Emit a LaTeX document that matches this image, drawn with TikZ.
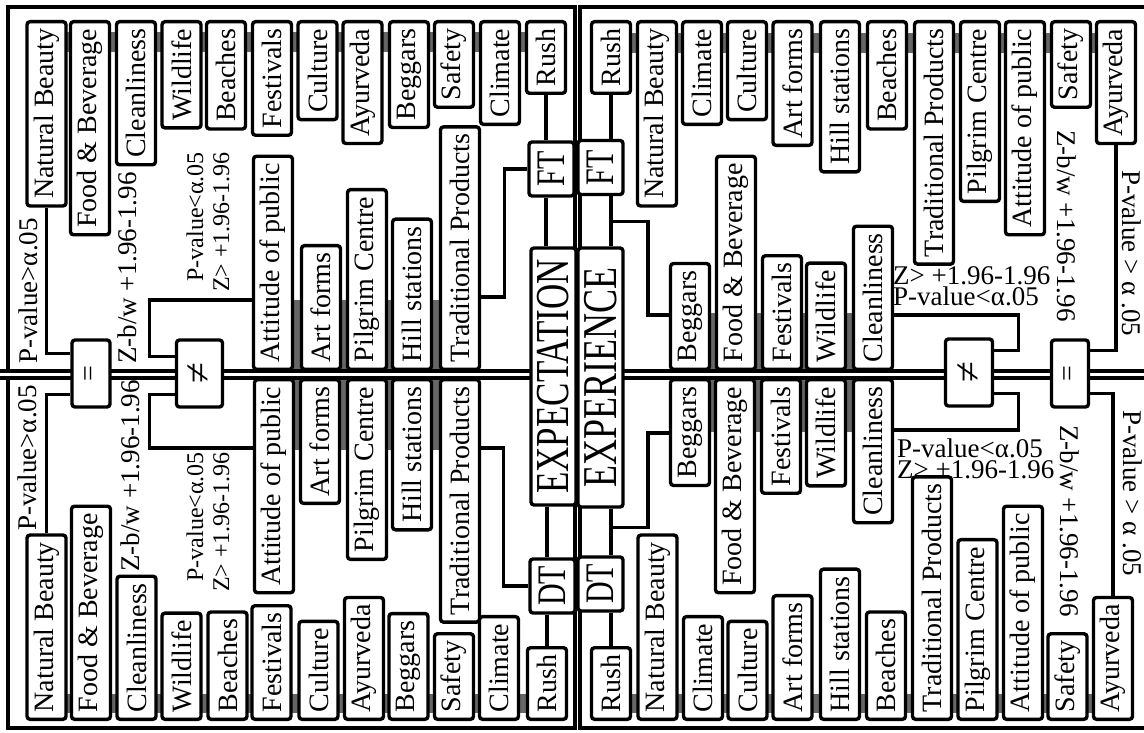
\documentclass[tikz,border=0pt]{standalone}
\usepackage{fontspec}
\setmainfont{Liberation Serif}
\usepackage{graphicx}
\usetikzlibrary{calc}

\newcommand{\tallword}[1]{\scalebox{1}[1.35]{#1}}

\tikzset{
  fact/.style={draw, line width=3.4pt, rounded corners=3pt, fill=white, rotate=90,
    minimum height=39pt, inner xsep=7pt, inner ysep=3pt,
    font=\fontsize{28}{30}\selectfont},
  head/.style={fact, minimum height=45pt, font=\fontsize{35}{36}\selectfont},
  tag/.style={head, minimum width=54pt, inner xsep=0pt, font=\fontsize{30}{32}\selectfont},
  sign/.style={fact, minimum width=67pt, inner sep=0pt},
  stat/.style={rotate=90, inner sep=0pt, font=\fontsize{27}{29}\selectfont},
  statdown/.style={rotate=-90, inner sep=0pt, font=\fontsize{27}{29}\selectfont},
  pair/.style={rotate=90, inner sep=0pt, align=right, font=\fontsize{24}{26}\selectfont},
  flat/.style={inner sep=0pt, align=left, font=\fontsize{27}{21}\selectfont},
  link/.style={line width=3.2pt},
  band/.style={fill=black!60}
}

\begin{document}
\begin{tikzpicture}[x=1pt,y=-1pt]
  \useasboundingbox (0,0) rectangle (1144,733);

  % Grey strips behind the rows of boxes
  \fill[band] (46,32) rectangle (546,52);
  \fill[band] (273,300) rectangle (460,371);
  \fill[band] (273,378) rectangle (460,450);
  \fill[band] (46,694) rectangle (547,713);
  \fill[band] (611,33) rectangle (1116,53);
  \fill[band] (690,313) rectangle (873,371);
  \fill[band] (690,378) rectangle (873,432);
  \fill[band] (611,694) rectangle (1113,713);

  % Quadrant frames
  \draw[link] (8,7) rectangle (575,371);
  \draw[link] (580,7) rectangle (1150,371);
  \draw[link] (8,378) rectangle (575,728);
  \draw[link] (580,378) rectangle (1150,728);
  \draw[link] (0,371) -- (8,371);
  \draw[link] (0,378) -- (8,378);

  % Expectation, FT: top row
  \node[fact, anchor=east] (nbTL) at (46.5,20) {Natural Beauty};
  \node[fact, anchor=east] (fbTL) at (90,20) {Food \& Beverage};
  \node[fact, anchor=east] (clTL) at (136,20) {Cleanliness};
  \node[fact, anchor=east] (wlTL) at (181.5,20) {Wildlife};
  \node[fact, anchor=east] (beTL) at (226,20) {Beaches};
  \node[fact, anchor=east] (feTL) at (272,20) {Festivals};
  \node[fact, anchor=east] (cuTL) at (317.5,20) {Culture};
  \node[fact, anchor=east] (ayTL) at (362.5,20) {Ayurveda};
  \node[fact, anchor=east] (bgTL) at (409,20) {Beggars};
  \node[fact, anchor=east] (saTL) at (454,20) {Safety};
  \node[fact, anchor=east] (ciTL) at (500,20) {Climate};
  \node[fact, anchor=east] (ruTL) at (546,20) {Rush};

  % Expectation, FT: boxes on the middle line
  \node[fact, anchor=west] (atTL) at (273,371) {Attitude of public};
  \node[fact, anchor=west] (afTL) at (321,371) {Art forms};
  \node[fact, anchor=west] (pcTL) at (367,371) {Pilgrim Centre};
  \node[fact, anchor=west] (hsTL) at (412,371) {Hill stations};
  \node[fact, anchor=west] (tpTL) at (460,371) {Traditional Products};

  % Expectation, DT: boxes on the middle line
  \node[fact, anchor=east] (atBL) at (274,378) {Attitude of public};
  \node[fact, anchor=east] (afBL) at (320,378) {Art forms};
  \node[fact, anchor=east] (pcBL) at (367,378) {Pilgrim Centre};
  \node[fact, anchor=east] (hsBL) at (412,378) {Hill stations};
  \node[fact, anchor=east] (tpBL) at (460,378) {Traditional Products};

  % Expectation, DT: bottom row
  \node[fact, anchor=west] (nbBL) at (46.5,721) {Natural Beauty};
  \node[fact, anchor=west] (fbBL) at (91,721) {Food \& Beverage};
  \node[fact, anchor=west] (clBL) at (136.5,721) {Cleanliness};
  \node[fact, anchor=west] (wlBL) at (181.5,721) {Wildlife};
  \node[fact, anchor=west] (beBL) at (227.5,721) {Beaches};
  \node[fact, anchor=west] (feBL) at (271.5,721) {Festivals};
  \node[fact, anchor=west] (cuBL) at (318.5,721) {Culture};
  \node[fact, anchor=west] (ayBL) at (364,721) {Ayurveda};
  \node[fact, anchor=west] (bgBL) at (408.5,721) {Beggars};
  \node[fact, anchor=west] (saBL) at (454,721) {Safety};
  \node[fact, anchor=west] (ciBL) at (499,721) {Climate};
  \node[fact, anchor=west] (ruBL) at (547,721) {Rush};

  % Experience, FT: top row
  \node[fact, anchor=east] (ruTR) at (611,20) {Rush};
  \node[fact, anchor=east] (nbTR) at (657,20) {Natural Beauty};
  \node[fact, anchor=east] (ciTR) at (702,20) {Climate};
  \node[fact, anchor=east] (cuTR) at (747,20) {Culture};
  \node[fact, anchor=east] (afTR) at (792.5,20) {Art forms};
  \node[fact, anchor=east] (hsTR) at (840,20) {Hill stations};
  \node[fact, anchor=east] (beTR) at (887,20) {Beaches};
  \node[fact, anchor=east] (tpTR) at (934,20) {Traditional Products};
  \node[fact, anchor=east] (pcTR) at (980,20) {Pilgrim Centre};
  \node[fact, anchor=east] (atTR) at (1025,20) {Attitude of public};
  \node[fact, anchor=east] (saTR) at (1071,20) {Safety};
  \node[fact, anchor=east] (ayTR) at (1116,20) {Ayurveda};

  % Experience, FT: boxes on the middle line
  \node[fact, anchor=west] (bgTR) at (690,371) {Beggars};
  \node[fact, anchor=west] (fbTR) at (736,371) {Food \& Beverage};
  \node[fact, anchor=west] (feTR) at (782,371) {Festivals};
  \node[fact, anchor=west] (wlTR) at (826,371) {Wildlife};
  \node[fact, anchor=west] (clTR) at (873,371) {Cleanliness};

  % Experience, DT: boxes on the middle line
  \node[fact, anchor=east] (bgBR) at (690,378) {Beggars};
  \node[fact, anchor=east] (fbBR) at (735,378) {Food \& Beverage};
  \node[fact, anchor=east] (feBR) at (781,378) {Festivals};
  \node[fact, anchor=east] (wlBR) at (826,378) {Wildlife};
  \node[fact, anchor=east] (clBR) at (873,378) {Cleanliness};

  % Experience, DT: bottom row
  \node[fact, anchor=west] (ruBR) at (611,721) {Rush};
  \node[fact, anchor=west] (nbBR) at (657.5,721) {Natural Beauty};
  \node[fact, anchor=west] (ciBR) at (703,721) {Climate};
  \node[fact, anchor=west] (cuBR) at (747.5,721) {Culture};
  \node[fact, anchor=west] (afBR) at (792.5,721) {Art forms};
  \node[fact, anchor=west] (hsBR) at (840,721) {Hill stations};
  \node[fact, anchor=west] (beBR) at (886,721) {Beaches};
  \node[fact, anchor=west] (tpBR) at (932,721) {Traditional Products};
  \node[fact, anchor=west] (pcBR) at (977.5,721) {Pilgrim Centre};
  \node[fact, anchor=west] (atBR) at (1023,721) {Attitude of public};
  \node[fact, anchor=west] (saBR) at (1067.5,721) {Safety};
  \node[fact, anchor=west] (ayBR) at (1113,721) {Ayurveda};

  % Headings and trip type boxes
  \node[head, minimum width=257pt] (expL) at (553.5,376.5) {\tallword{EXPECTATION}};
  \node[head, minimum width=259pt, font=\fontsize{36}{38}\selectfont] (expR) at (600.5,377.5) {\tallword{EXPERIENCE}};
  \node[tag] (ftL) at (551.5,169) {\tallword{FT}};
  \node[tag] (dtL) at (552.5,586) {\tallword{DT}};
  \node[tag] (ftR) at (600.5,167.5) {\tallword{FT}};
  \node[tag] (dtR) at (600.5,584) {\tallword{DT}};

  % Test result boxes
  \node[sign, minimum height=38pt] (eqL) at (91,373.5) {=};
  \node[sign, minimum height=46pt, font=\fontsize{38}{38}\selectfont] (neL) at (199.5,373.5) {≠};
  \node[sign, minimum height=47pt, font=\fontsize{38}{38}\selectfont] (neR) at (969,372.5) {≠};
  \node[sign, minimum height=37pt] (eqR) at (1070,373.5) {=};

  % Test statistics, left half
  \node[stat, anchor=west] (pgTL) at (28,364) {P-value>α.05};
  \node[stat, anchor=west] (zbTL) at (127,364) {Z-b/w +1.96-1.96};
  \node[pair, anchor=east] (zsTL) at (208,152) {P-value<α.05\\Z> +1.96-1.96};
  \node[stat, anchor=east] (pgBL) at (27,385) {P-value>α.05};
  \node[stat, anchor=east] (zbBL) at (130,380) {Z-b/w +1.96-1.96};
  \node[pair, anchor=east] (zsBL) at (208,452) {P-value<α.05\\Z> +1.96-1.96};

  % Test statistics, right half
  \node[flat, anchor=north west] (zsTR) at (893,266) {Z> +1.96-1.96\\P-value<α.05};
  \node[flat, anchor=north west] (zsBR) at (897,439) {P-value<α.05\\Z> +1.96-1.96};
  \node[statdown, anchor=west] (zbTR) at (1067,130) {Z-b/w +1.96-1.96};
  \node[statdown, anchor=west] (pgTR) at (1132,170) {P-value > α .05};
  \node[statdown, anchor=west] (zbBR) at (1070,425) {Z-b/w +1.96-1.96};
  \node[statdown, anchor=west] (pgBR) at (1133,410) {P-value > α .05};

  % Trip chain, expectation
  \draw[link] (ruTL.west) -- (ruTL.west |- ftL.east);
  \draw[link] (ftL.west -| ruTL.west) -- (expL.east -| ruTL.west);
  \draw[link] (expL.west -| ruBL.east) -- (dtL.east -| ruBL.east);
  \draw[link] (dtL.west -| ruBL.east) -- (ruBL.east);
  \draw[link] ([yshift=74pt]tpTL.south west) -- ++(23,0) |- (ftL.north);
  \draw[link] ([yshift=-70pt]tpBL.south east) -- ++(22,0) |- (dtL.north);

  % Trip chain, experience
  \draw[link] (ruTR.west) -- (ruTR.west |- ftR.east);
  \draw[link] (ftR.west -| ruTR.west) -- (expR.east -| ruTR.west);
  \draw[link] (expR.west -| ruBR.east) -- (dtR.east -| ruBR.east);
  \draw[link] (dtR.west -| ruBR.east) -- (ruBR.east);
  \coordinate (jTR) at ($(ftR.west -| ruTR.west)!0.5!(expR.east -| ruTR.west)$);
  \coordinate (jBR) at ($(expR.west -| ruBR.east)!0.4!(dtR.east -| ruBR.east)$);
  \draw[link] (jTR) -- ++(37,0) |- ([yshift=56pt]bgTR.north west);
  \draw[link] (jBR) -- ++(37,0) |- ([yshift=-55pt]bgBR.north east);

  % Result links, left half
  \draw[link] (nbTL.west) |- ([yshift=20pt]eqL.north);
  \draw[link] ([yshift=-21pt]eqL.north) -| (nbBL.east);
  \draw[link] ([yshift=17pt]neL.north) -- ++(-25,0) |- ([yshift=71pt]atTL.north west);
  \draw[link] ([yshift=-21pt]neL.north) -- ++(-25,0) |- ([yshift=-70pt]atBL.north east);

  % Result links, right half
  \draw[link] ([yshift=22pt]neR.south) -- ++(24,0) |- ([yshift=56pt]clTR.south west);
  \draw[link] ([yshift=-21pt]neR.south) -- ++(24,0) |- ([yshift=-52pt]clBR.south east);
  \draw[link] ([yshift=23pt]eqR.south) -| (ayTR.west);
  \draw[link] ([yshift=-20pt]eqR.south) -| (ayBR.east);
\end{tikzpicture}
\end{document}
